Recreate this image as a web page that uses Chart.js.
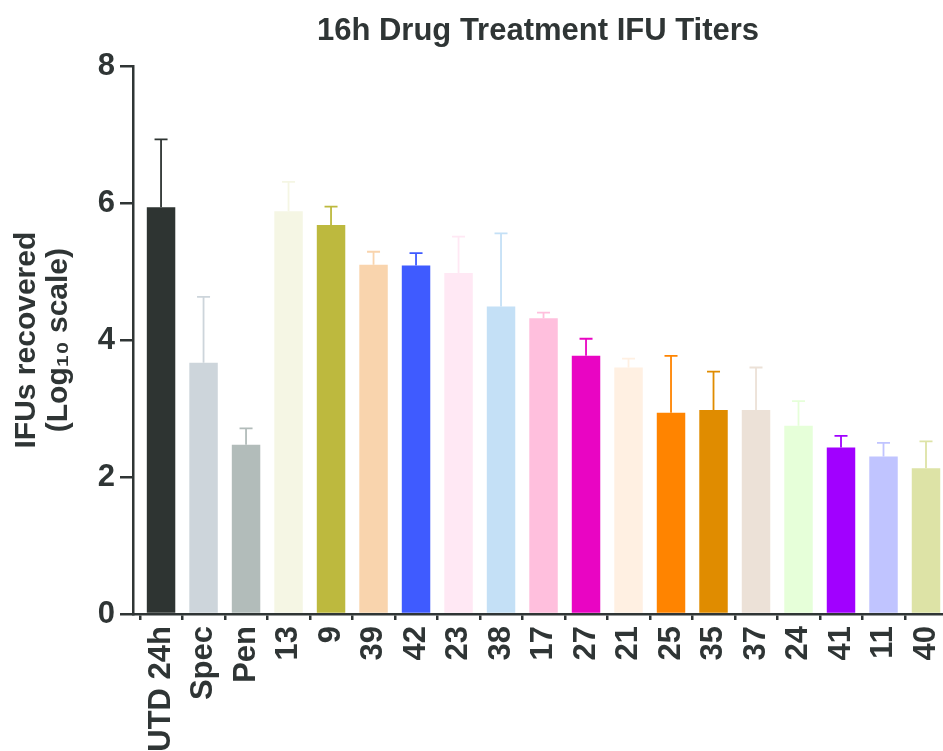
<!DOCTYPE html>
<html>
<head>
<meta charset="utf-8">
<title>16h Drug Treatment IFU Titers</title>
<script src="https://cdn.jsdelivr.net/npm/chart.js@4/dist/chart.umd.min.js"></script>
<style>
  html, body { margin: 0; padding: 0; background: #ffffff; overflow: hidden; }
  #wrap { width: 943px; height: 751px; }
</style>
</head>
<body>
<div id="wrap"><canvas id="chart" width="943" height="751"></canvas></div>
<script>
// Treatment groups, in plotted order
const categories = ['UTD 24h', 'Spec', 'Pen', '13', '9', '39', '42', '23', '38', '17',
                    '27', '21', '25', '35', '37', '24', '41', '11', '40'];

// Mean IFUs recovered (log10)
const meanLog10 = [5.94, 3.67, 2.47, 5.88, 5.68, 5.10, 5.09, 4.98, 4.49, 4.32,
                   3.77, 3.60, 2.94, 2.98, 2.98, 2.75, 2.43, 2.30, 2.13];

// Upper error (SD, log10 units)
const sdLog10 = [0.99, 0.96, 0.24, 0.43, 0.27, 0.19, 0.18, 0.53, 1.07, 0.08,
                 0.25, 0.13, 0.83, 0.56, 0.62, 0.36, 0.17, 0.20, 0.39];

// Bar colour per group
const barColors = ['#2e3432', '#cdd5db', '#b2bcba', '#f5f6e4', '#bdb93e', '#f9d4ad',
                   '#3f5bff', '#ffe8f4', '#c4e0f6', '#ffbfdd', '#e905c3', '#fff0e2',
                   '#ff8400', '#e08c00', '#ece1d7', '#e6ffd9', '#a100ff', '#c0c4ff',
                   '#dde3a6'];

// Y axis ticks
const yTicks = [0, 2, 4, 6, 8];

const ink = '#2f3535';
const fontFamily = '"Liberation Sans", Arial, Helvetica, sans-serif';

// Upper error bars with caps, drawn in each bar's own colour
const errorBars = {
  id: 'errorBars',
  afterDatasetsDraw(chart) {
    const { ctx, scales: { x, y } } = chart;
    const cap = 6.5;
    ctx.save();
    ctx.lineWidth = 1.8;
    ctx.lineCap = 'butt';
    meanLog10.forEach((m, i) => {
      const px = x.getPixelForValue(i);
      const yTop = y.getPixelForValue(m);
      const yErr = y.getPixelForValue(m + sdLog10[i]);
      ctx.strokeStyle = barColors[i];
      ctx.beginPath();
      ctx.moveTo(px, yTop);
      ctx.lineTo(px, yErr);
      ctx.moveTo(px - cap, yErr);
      ctx.lineTo(px + cap, yErr);
      ctx.stroke();
    });
    ctx.restore();
  }
};

new Chart(document.getElementById('chart'), {
  type: 'bar',
  data: {
    datasets: [{
      data: meanLog10.map((v, i) => ({ x: i, y: v })),
      backgroundColor: barColors,
      borderWidth: 0,
      barPercentage: 0.67,
      categoryPercentage: 1.0
    }]
  },
  options: {
    responsive: false,
    devicePixelRatio: 1,
    animation: false,
    layout: { padding: 0 },
    plugins: {
      legend: { display: false },
      tooltip: { enabled: false },
      title: {
        display: true,
        fullSize: false,
        text: '16h Drug Treatment IFU Titers',
        color: ink,
        font: { family: fontFamily, size: 31, weight: 'bold', lineHeight: 1.2 },
        padding: { top: 13, bottom: 16 }
      }
    },
    scales: {
      x: {
        type: 'linear',
        min: -0.66,
        max: 18.4,
        offset: false,
        afterBuildTicks(s) { s.ticks = categories.map((_, i) => ({ value: i })); },
        afterFit(s) { s.height = 137; s.paddingLeft = 0; s.paddingRight = 0; },
        ticks: {
          autoSkip: false,
          minRotation: 90,
          maxRotation: 90,
          padding: 6,
          color: ink,
          font: { family: fontFamily, size: 31, weight: 'bold' },
          callback: (v) => categories[v] ?? ''
        },
        grid: {
          drawOnChartArea: false,
          drawTicks: true,
          tickLength: 6,
          color: ink,
          lineWidth: 2.5
        },
        border: { display: true, color: ink, width: 2.5 }
      },
      y: {
        min: 0,
        max: 8,
        afterBuildTicks(s) { s.ticks = yTicks.map(v => ({ value: v })); },
        afterFit(s) { s.width = 133; s.paddingTop = 0; s.paddingBottom = 0; },
        ticks: {
          padding: 5,
          color: ink,
          font: { family: fontFamily, size: 31, weight: 'bold' }
        },
        grid: {
          drawOnChartArea: false,
          drawTicks: true,
          tickLength: 13,
          color: ink,
          lineWidth: 2.5
        },
        border: { display: true, color: ink, width: 2.5 },
        title: {
          display: true,
          text: ['IFUs recovered', '(Log\u2081\u2080 scale)'],
          color: ink,
          font: { family: fontFamily, size: 30, weight: 'bold', lineHeight: 1.07 },
          padding: { top: 11, bottom: 0 }
        }
      }
    }
  },
  plugins: [errorBars]
});
</script>
</body>
</html>
